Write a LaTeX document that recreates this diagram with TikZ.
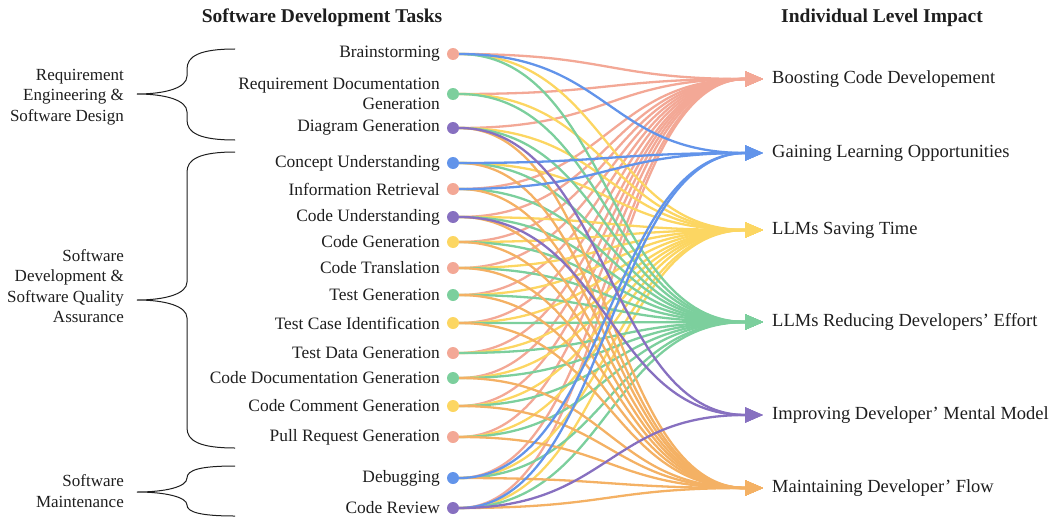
\documentclass[tikz,border=0pt]{standalone}
\usepackage{fontspec}
\setmainfont{Liberation Serif}
\usetikzlibrary{arrows.meta,backgrounds}

\definecolor{salmon}{RGB}{243,168,150}
\definecolor{mint}{RGB}{124,207,157}
\definecolor{lilac}{RGB}{135,112,192}
\definecolor{skyblue}{RGB}{98,148,234}
\definecolor{sun}{RGB}{252,214,98}
\definecolor{apricot}{RGB}{244,177,100}
\definecolor{ink}{RGB}{30,30,30}

\tikzset{
    task/.style={anchor=east, align=right, text=ink, inner sep=0pt, font=\fontsize{17.4}{20}\selectfont},
    impact/.style={anchor=west, text=ink, inner sep=0pt, font=\fontsize{18.5}{22}\selectfont},
    group/.style={anchor=east, align=right, text=ink, inner sep=0pt, font=\fontsize{17}{20.5}\selectfont},
    heading/.style={text=ink, font=\fontsize{19.5}{23}\selectfont\bfseries},
    dot/.style={circle, fill=#1, minimum size=12pt, inner sep=0pt},
    flow/.style={draw=#1, line width=2.3pt, -{Triangle[length=18pt,width=15pt]}},
    sankey/.style={to path={.. controls +(155,0) and +(-155,0) .. (\tikztotarget)}},
    brace/.style={draw=ink, line width=1pt},
}

\begin{document}
\begin{tikzpicture}[x=1pt,y=-1pt]
    \useasboundingbox (0,0) rectangle (1059,519);

    % headings
    \node[heading] (tasks-title) at (322,18) {Software Development Tasks};
    \node[heading] (impact-title) at (882,18) {Individual Level Impact};

    % tasks
    \foreach \name/\ypos/\col/\txt in {
        brain/54/salmon/Brainstorming,
        reqdoc/94/mint/{Requirement Documentation\\Generation},
        diagram/128/lilac/Diagram Generation,
        concept/163/skyblue/Concept Understanding,
        info/189/salmon/Information Retrieval,
        codeund/217/lilac/Code Understanding,
        codegen/242/sun/Code Generation,
        codetrans/268/salmon/Code Translation,
        testgen/295/mint/Test Generation,
        testcase/323/sun/Test Case Identification,
        testdata/353/salmon/Test Data Generation,
        codedoc/378/mint/Code Documentation Generation,
        comment/406/sun/Code Comment Generation,
        pullreq/437/salmon/Pull Request Generation,
        debug/478/skyblue/Debugging,
        review/508/lilac/Code Review}{
        \node[task] (\name-label) at (440,\ypos) {\txt};
        \node[dot=\col] (\name) at (453,\ypos) {};
    }

    % impacts
    \foreach \name/\ypos/\txt in {
        boost/79/Boosting Code Developement,
        gain/153/Gaining Learning Opportunities,
        save/230/LLMs Saving Time,
        reduce/322/LLMs Reducing Developers' Effort,
        improve/415/Improving Developer' Mental Model,
        keepflow/488/Maintaining Developer' Flow}{
        \coordinate (\name-tip) at (763,\ypos);
        \node[impact] (\name) at (772,\ypos) {\txt};
    }

    % connectors
    \begin{pgfonlayer}{background}
        \foreach \src in {brain,reqdoc,diagram,info,codeund,codegen,codetrans,testgen,testcase,testdata,codedoc,comment,pullreq,debug,review}
            \draw[flow=salmon] (\src) to[sankey] (boost-tip);
        \foreach \src in {brain,reqdoc,diagram,concept,codeund,codegen,codetrans,testgen,testcase,testdata,codedoc,comment,pullreq,debug,review}
            \draw[flow=sun] (\src) to[sankey] (save-tip);
        \foreach \src in {brain,reqdoc,diagram,concept,info,codeund,codegen,codetrans,testgen,testcase,testdata,codedoc,comment,pullreq,debug,review}
            \draw[flow=mint] (\src) to[sankey] (reduce-tip);
        \foreach \src in {diagram,concept,info,codeund,codegen,codetrans,testgen,testcase,codedoc,comment,pullreq,debug,review}
            \draw[flow=apricot] (\src) to[sankey] (keepflow-tip);
        \foreach \src in {brain,concept,info,debug,review}
            \draw[flow=skyblue] (\src) to[sankey] (gain-tip);
        \foreach \src in {diagram,codeund,review}
            \draw[flow=lilac] (\src) to[sankey] (improve-tip);
    \end{pgfonlayer}

    % groups
    \node[group] (req-group) at (124,97) {Requirement\\Engineering \&\\Software Design};
    \node[group] (dev-group) at (124,286) {Software\\Development \&\\Software Quality\\Assurance};
    \node[group] (maint-group) at (124,491) {Software\\Maintenance};

    \draw[brace] (235,49) .. controls (200,49) and (187,56) .. (187,69) -- (187,76)
        .. controls (187,88) and (165,94) .. (137,94)
        .. controls (165,94) and (187,100) .. (187,112) -- (187,120)
        .. controls (187,133) and (200,140) .. (235,140);
    \draw[brace] (235,152) .. controls (200,152) and (187,159) .. (187,172) -- (187,282)
        .. controls (187,294) and (165,300) .. (137,300)
        .. controls (165,300) and (187,306) .. (187,318) -- (187,428)
        .. controls (187,441) and (200,448) .. (235,448);
    \draw[brace] (235,466) .. controls (200,466) and (187,470) .. (187,478)
        .. controls (187,487) and (165,492) .. (137,492)
        .. controls (165,492) and (187,497) .. (187,505)
        .. controls (187,512) and (200,516) .. (235,516);
\end{tikzpicture}
\end{document}
